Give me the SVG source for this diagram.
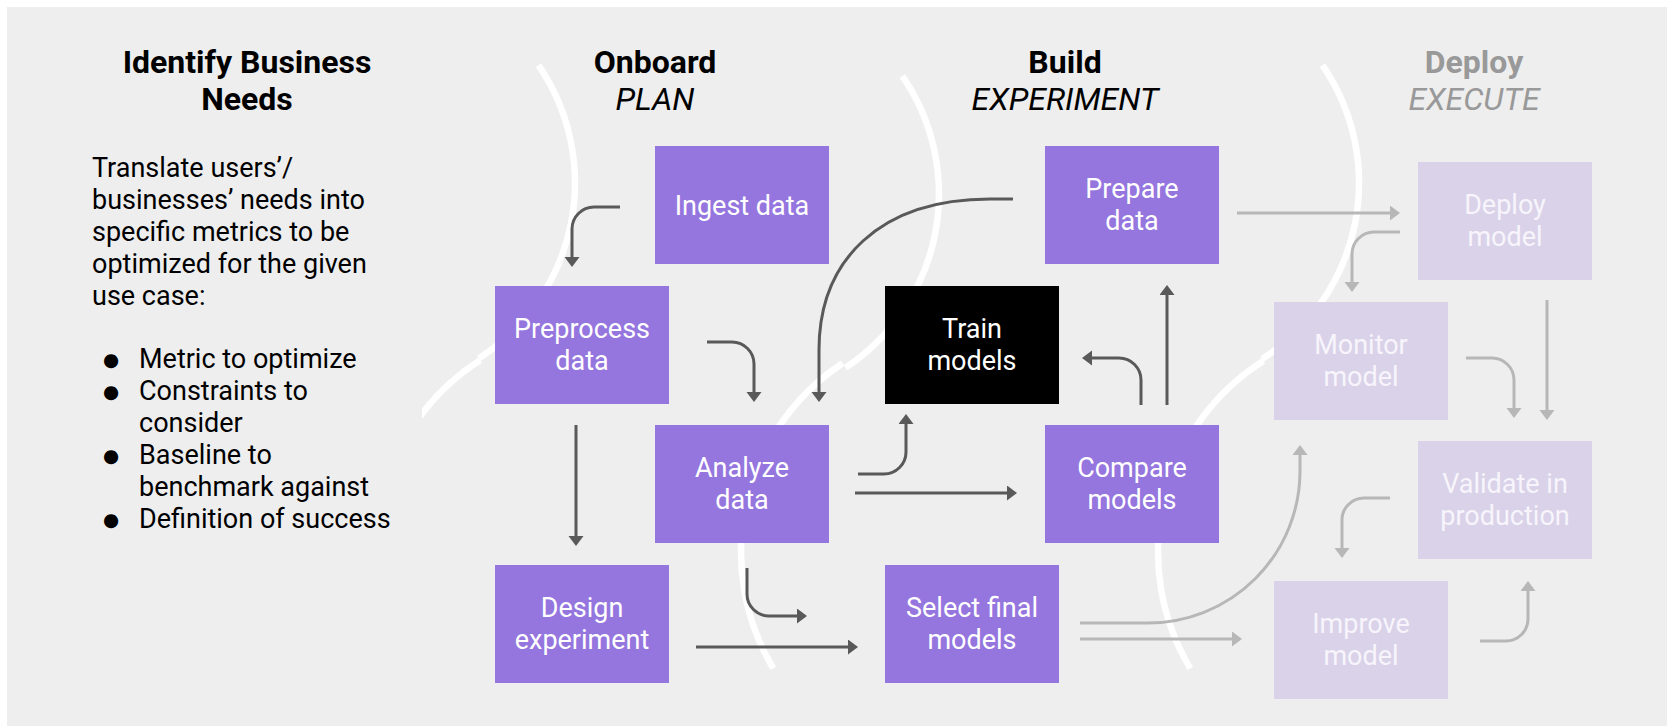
<svg xmlns="http://www.w3.org/2000/svg" width="1667" height="726" viewBox="0 0 1667 726">
  <style>
    .heading { font-family: Roboto, "Liberation Sans", sans-serif; font-size: 32px; font-weight: 700; text-anchor: middle; }
    .phase { font-family: Roboto, "Liberation Sans", sans-serif; font-size: 32px; font-style: italic; text-anchor: middle; }
    .body { font-family: Roboto, "Liberation Sans", sans-serif; font-size: 27px; fill: #000000; }
    .bullet { font-family: "DejaVu Sans", sans-serif; font-size: 18.5px; fill: #000000; }
    .box { fill: #9575DE; }
    .box-dark { fill: #000000; }
    .box-light { fill: #D9D2E9; }
    .label { font-family: Roboto, "Liberation Sans", sans-serif; font-size: 27px; fill: #FFFFFF; text-anchor: middle; }
    .label-light { font-family: Roboto, "Liberation Sans", sans-serif; font-size: 27px; fill: #F7F5FB; text-anchor: middle; }
    .ring { fill: none; stroke: #FFFFFF; stroke-width: 6.5; }
    .edge { fill: none; stroke: #595959; stroke-width: 3; }
    .edge-light { fill: none; stroke: #B7B7B7; stroke-width: 3; }
    .muted { fill: #999999; }
  </style>
  <defs>
    <marker id="head-dark" markerUnits="userSpaceOnUse" markerWidth="16" markerHeight="16" refX="2" refY="7.5" orient="auto">
      <path d="M0,0 L10,7.5 L0,15 Z" fill="#595959"/>
    </marker>
    <marker id="head-light" markerUnits="userSpaceOnUse" markerWidth="16" markerHeight="16" refX="2" refY="7.5" orient="auto">
      <path d="M0,0 L10,7.5 L0,15 Z" fill="#B7B7B7"/>
    </marker>
    <clipPath id="stage-clip">
      <rect x="422" y="0" width="1245" height="726"/>
    </clipPath>
  </defs>

  <!-- canvas -->
  <rect x="0" y="0" width="1667" height="726" fill="#FFFFFF"/>
  <rect x="7" y="7" width="1660" height="719" fill="#EEEEEE"/>

  <!-- stage rings behind the steps -->
  <g id="rings">
    <g clip-path="url(#stage-clip)">
      <path class="ring" d="M538.4,65.2 A208,208 0 0 1 478.8,358.4"/>
      <path class="ring" d="M480.1,360.2 A225,225 0 0 0 408.1,665.9"/>
    </g>
    <path class="ring" d="M902.4,76.2 A208,208 0 0 1 845.5,367.6"/>
    <path class="ring" d="M842.6,363.3 A226,226 0 0 0 773.3,668.4"/>
    <path class="ring" d="M1322.4,65.2 A208,208 0 0 1 1262.1,358.9"/>
    <path class="ring" d="M1263.3,360.9 A226,226 0 0 0 1190.3,668.4"/>
  </g>

  <!-- business needs column -->
  <g id="business-needs">
    <text class="heading" x="247" y="73">Identify Business</text>
    <text class="heading" x="247" y="110">Needs</text>
    <text class="body" x="92" y="177">Translate users’/</text>
    <text class="body" x="92" y="209">businesses’ needs into</text>
    <text class="body" x="92" y="241">specific metrics to be</text>
    <text class="body" x="92" y="273">optimized for the given</text>
    <text class="body" x="92" y="305">use case:</text>
    <text class="bullet" x="103" y="366">●</text>
    <text class="body" x="139" y="368">Metric to optimize</text>
    <text class="bullet" x="103" y="398">●</text>
    <text class="body" x="139" y="400">Constraints to</text>
    <text class="body" x="139" y="432">consider</text>
    <text class="bullet" x="103" y="462">●</text>
    <text class="body" x="139" y="464">Baseline to</text>
    <text class="body" x="139" y="496">benchmark against</text>
    <text class="bullet" x="103" y="526">●</text>
    <text class="body" x="139" y="528">Definition of success</text>
  </g>

  <!-- stage headings -->
  <g id="stage-onboard">
    <text class="heading" x="655" y="73">Onboard</text>
    <text class="phase" x="655" y="110">PLAN</text>
  </g>
  <g id="stage-build">
    <text class="heading" x="1065" y="73">Build</text>
    <text class="phase" x="1065" y="110">EXPERIMENT</text>
  </g>
  <g id="stage-deploy">
    <text class="heading muted" x="1474" y="73">Deploy</text>
    <text class="phase muted" x="1474" y="110">EXECUTE</text>
  </g>

  <!-- steps -->
  <g id="ingest-data">
    <rect class="box" x="655" y="146" width="174" height="118"/>
    <text class="label" x="742" y="215">Ingest data</text>
  </g>
  <g id="prepare-data">
    <rect class="box" x="1045" y="146" width="174" height="118"/>
    <text class="label" x="1132" y="198">Prepare</text>
    <text class="label" x="1132" y="230">data</text>
  </g>
  <g id="deploy-model">
    <rect class="box-light" x="1418" y="162" width="174" height="118"/>
    <text class="label-light" x="1505" y="214">Deploy</text>
    <text class="label-light" x="1505" y="246">model</text>
  </g>
  <g id="preprocess-data">
    <rect class="box" x="495" y="286" width="174" height="118"/>
    <text class="label" x="582" y="338">Preprocess</text>
    <text class="label" x="582" y="370">data</text>
  </g>
  <g id="train-models">
    <rect class="box-dark" x="885" y="286" width="174" height="118"/>
    <text class="label" x="972" y="338">Train</text>
    <text class="label" x="972" y="370">models</text>
  </g>
  <g id="monitor-model">
    <rect class="box-light" x="1274" y="302" width="174" height="118"/>
    <text class="label-light" x="1361" y="354">Monitor</text>
    <text class="label-light" x="1361" y="386">model</text>
  </g>
  <g id="analyze-data">
    <rect class="box" x="655" y="425" width="174" height="118"/>
    <text class="label" x="742" y="477">Analyze</text>
    <text class="label" x="742" y="509">data</text>
  </g>
  <g id="compare-models">
    <rect class="box" x="1045" y="425" width="174" height="118"/>
    <text class="label" x="1132" y="477">Compare</text>
    <text class="label" x="1132" y="509">models</text>
  </g>
  <g id="validate-in-production">
    <rect class="box-light" x="1418" y="441" width="174" height="118"/>
    <text class="label-light" x="1505" y="493">Validate in</text>
    <text class="label-light" x="1505" y="525">production</text>
  </g>
  <g id="design-experiment">
    <rect class="box" x="495" y="565" width="174" height="118"/>
    <text class="label" x="582" y="617">Design</text>
    <text class="label" x="582" y="649">experiment</text>
  </g>
  <g id="select-final-models">
    <rect class="box" x="885" y="565" width="174" height="118"/>
    <text class="label" x="972" y="617">Select final</text>
    <text class="label" x="972" y="649">models</text>
  </g>
  <g id="improve-model">
    <rect class="box-light" x="1274" y="581" width="174" height="118"/>
    <text class="label-light" x="1361" y="633">Improve</text>
    <text class="label-light" x="1361" y="665">model</text>
  </g>

  <!-- connectors -->
  <g id="connectors">
    <path class="edge" marker-end="url(#head-dark)" d="M620,207 H594 A22,22 0 0 0 572,229 V259"/>
    <path class="edge" marker-end="url(#head-dark)" d="M707,342 H732 A22,22 0 0 1 754,364 V394"/>
    <path class="edge" marker-end="url(#head-dark)" d="M1013,199 H990 C880,199 819,260 819,350 V394"/>
    <path class="edge" marker-end="url(#head-dark)" d="M858,474 H884 A22,22 0 0 0 906,452 V422"/>
    <path class="edge" marker-end="url(#head-dark)" d="M855,493 H1009"/>
    <path class="edge" marker-end="url(#head-dark)" d="M576,425 V538"/>
    <path class="edge" marker-end="url(#head-dark)" d="M747,568 V594 A22,22 0 0 0 769,616 H799"/>
    <path class="edge" marker-end="url(#head-dark)" d="M696,647 H850"/>
    <path class="edge" marker-end="url(#head-dark)" d="M1141,405 V380 A22,22 0 0 0 1119,358 H1090"/>
    <path class="edge" marker-end="url(#head-dark)" d="M1167,405 V293"/>

    <path class="edge-light" marker-end="url(#head-light)" d="M1237,213 H1392"/>
    <path class="edge-light" marker-end="url(#head-light)" d="M1400,232 H1374 A22,22 0 0 0 1352,254 V284"/>
    <path class="edge-light" marker-end="url(#head-light)" d="M1547,300 V412"/>
    <path class="edge-light" marker-end="url(#head-light)" d="M1466,358 H1492 A22,22 0 0 1 1514,380 V410"/>
    <path class="edge-light" marker-end="url(#head-light)" d="M1080,623 H1148 A152,152 0 0 0 1300,471 V453"/>
    <path class="edge-light" marker-end="url(#head-light)" d="M1080,639 H1234"/>
    <path class="edge-light" marker-end="url(#head-light)" d="M1390,498 H1364 A22,22 0 0 0 1342,520 V550"/>
    <path class="edge-light" marker-end="url(#head-light)" d="M1480,641 H1506 A22,22 0 0 0 1528,619 V589"/>
  </g>
</svg>
